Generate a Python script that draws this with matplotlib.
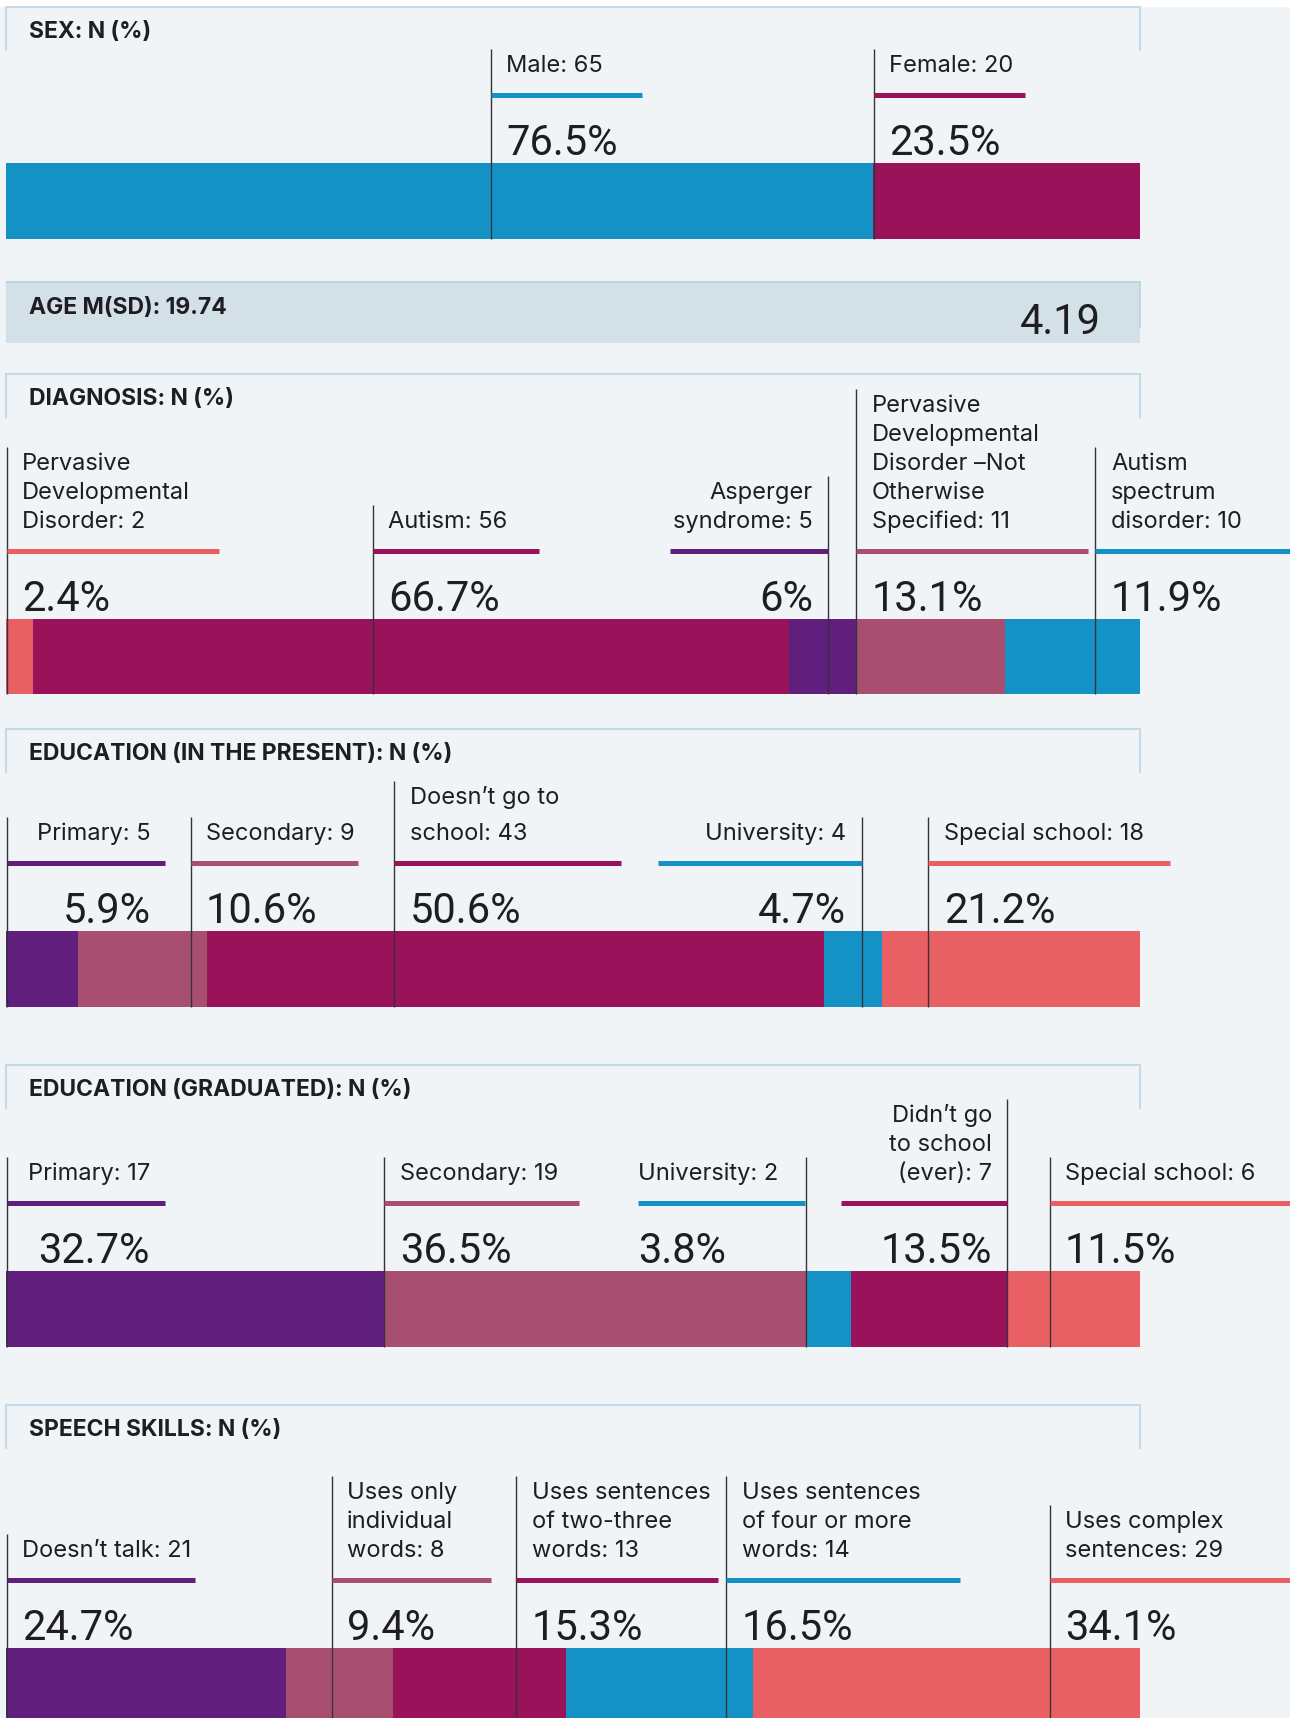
import matplotlib
matplotlib.use("Agg")
import matplotlib.pyplot as plt
from matplotlib.patches import Rectangle

# ---- data -------------------------------------------------------------
sex_names = ["Male", "Female"]
sex_counts = [65, 20]
sex_pct = ["76.5%", "23.5%"]

age_mean = 19.74
age_sd = 4.19

diag_names = ["Pervasive\nDevelopmental\nDisorder", "Autism", "Asperger\nsyndrome",
              "Pervasive\nDevelopmental\nDisorder \u2013Not\nOtherwise\nSpecified",
              "Autism\nspectrum\ndisorder"]
diag_counts = [2, 56, 5, 11, 10]
diag_pct = ["2.4%", "66.7%", "6%", "13.1%", "11.9%"]

edu_now_names = ["Primary", "Secondary", "Doesn\u2019t go to\nschool", "University", "Special school"]
edu_now_counts = [5, 9, 43, 4, 18]
edu_now_pct = ["5.9%", "10.6%", "50.6%", "4.7%", "21.2%"]

edu_grad_names = ["Primary", "Secondary", "University", "Didn\u2019t go\nto school\n(ever)", "Special school"]
edu_grad_counts = [17, 19, 2, 7, 6]
edu_grad_pct = ["32.7%", "36.5%", "3.8%", "13.5%", "11.5%"]

speech_names = ["Doesn\u2019t talk", "Uses only\nindividual\nwords", "Uses sentences\nof two-three\nwords",
                "Uses sentences\nof four or more\nwords", "Uses complex\nsentences"]
speech_counts = [21, 8, 13, 14, 29]
speech_pct = ["24.7%", "9.4%", "15.3%", "16.5%", "34.1%"]

# ---- styles -----------------------------------------------------------
BLUE = "#1492C6"
MAGENTA = "#99125A"
CORAL = "#E96064"
PURPLE = "#611F7D"
MAUVE = "#A84F6F"
BG = "#F0F4F7"
BORDER = "#C4DBE7"
INK = "#1E1E22"
LINE = "#333338"
BIG = ["Roboto", "DejaVu Sans"]  # big numbers

W, H = 1290, 1718
X0, X1 = 6, 1140  # bar span in pixels

plt.rcParams["font.family"] = ["Inter", "DejaVu Sans"]

fig = plt.figure(figsize=(W / 100, H / 100), dpi=100)
fig.patch.set_facecolor(BG)

ov = fig.add_axes([0, 0, 1, 1], zorder=5)
ov.set_xlim(0, W)
ov.set_ylim(H, 0)
ov.axis("off")
ov.patch.set_alpha(0)

# white strip at very top
ov.add_patch(Rectangle((0, 0), W, 7, facecolor="white", edgecolor="none"))


def header(top, title):
    ov.plot([X0, X1], [top, top], color=BORDER, lw=1.5, solid_capstyle="butt")
    ov.plot([X0, X0], [top, top + 43], color=BORDER, lw=1.5)
    ov.plot([X1, X1], [top, top + 43], color=BORDER, lw=1.5)
    ov.text(29, top + 25, title, fontsize=16.5, fontweight="bold", color=INK,
            va="center", ha="left")


def panel(title, top, bar_top, names, counts, pcts, colors, layout, bar_h=76):
    header(top, title)

    # stacked bar in its own axes, data units = counts
    bax = fig.add_axes([X0 / W, 1 - (bar_top + bar_h) / H, (X1 - X0) / W, bar_h / H], zorder=2)
    lefts = [sum(counts[:i]) for i in range(len(counts))]
    bax.barh(0, counts, left=lefts, height=1, color=colors, edgecolor="none")
    bax.set_xlim(0, sum(counts))
    bax.set_ylim(-0.5, 0.5)
    bax.axis("off")

    ul_y = bar_top - 68
    last_base = ul_y - 23
    pct_base = bar_top - 8
    for name, n, pct, col, lay in zip(names, counts, pcts, colors, layout):
        anchor, tx, ha, u0, u1 = lay[:5]
        gap = lay[5] if len(lay) > 5 else 29
        lines = f"{name}: {n}".split("\n")
        first_base = last_base - (len(lines) - 1) * gap
        for k, ln in enumerate(lines):
            ov.text(tx, first_base + k * gap, ln, fontsize=17, color=INK,
                    ha=ha, va="baseline")
        # leader line down through the bar
        ov.plot([anchor, anchor], [first_base - 23, bar_top + bar_h], color=LINE,
                lw=1.0, solid_capstyle="butt")
        # coloured underline
        ov.plot([u0, u1], [ul_y, ul_y], color=col, lw=3.6, solid_capstyle="butt")
        ov.text(tx, pct_base, pct, fontsize=30, family=BIG, color=INK, ha=ha, va="baseline")


# SEX
panel("SEX: N (%)", 7, 163, sex_names, sex_counts, sex_pct, [BLUE, MAGENTA],
      [(491, 506, "left", 491, 642), (874, 889, "left", 874, 1025)])

# AGE band
ov.add_patch(Rectangle((X0, 282), X1 - X0, 61, facecolor="#D3E0E8", edgecolor="none"))
ov.plot([X0, X1], [282, 282], color="#B9D2E0", lw=1.5, solid_capstyle="butt")
ov.plot([X1, X1], [282, 327], color="#B9D2E0", lw=1.2)
ov.text(29, 308, f"AGE M(SD): {age_mean:.2f}", fontsize=16.5, fontweight="bold",
        color=INK, va="center", ha="left")
ov.text(1101, 334, f"{age_sd:.2f}", fontsize=30, family=BIG, color=INK,
        ha="right", va="baseline")

# DIAGNOSIS
panel("DIAGNOSIS: N (%)", 374, 619, diag_names, diag_counts, diag_pct,
      [CORAL, MAGENTA, PURPLE, MAUVE, BLUE],
      [(7, 22, "left", 7, 219), (373, 388, "left", 373, 539),
       (828, 813, "right", 670, 828), (856, 872, "left", 856, 1088),
       (1095, 1111, "left", 1095, 1290)], bar_h=75)

# EDUCATION (present)
panel("EDUCATION (IN THE PRESENT): N (%)", 729, 931, edu_now_names, edu_now_counts,
      edu_now_pct, [PURPLE, MAUVE, MAGENTA, BLUE, CORAL],
      [(7, 151, "right", 7, 165), (191, 206, "left", 191, 358),
       (394, 410, "left", 394, 621, 36), (862, 846, "right", 658, 862),
       (928, 944, "left", 928, 1170)])

# EDUCATION (graduated)
panel("EDUCATION (GRADUATED): N (%)", 1065, 1271, edu_grad_names, edu_grad_counts,
      edu_grad_pct, [PURPLE, MAUVE, BLUE, MAGENTA, CORAL],
      [(7, 150, "right", 7, 165), (384, 400, "left", 384, 579),
       (806, 638, "left", 638, 805), (1007, 992, "right", 841, 1007),
       (1050, 1065, "left", 1050, 1290)])

# SPEECH SKILLS
panel("SPEECH SKILLS: N (%)", 1405, 1648, speech_names, speech_counts, speech_pct,
      [PURPLE, MAUVE, MAGENTA, BLUE, CORAL],
      [(7, 22, "left", 7, 195), (332, 347, "left", 332, 491),
       (516, 532, "left", 516, 718), (726, 742, "left", 726, 960),
       (1050, 1065, "left", 1050, 1290)])

fig.savefig("out.png", dpi=100, facecolor=fig.get_facecolor())
plt.close(fig)
